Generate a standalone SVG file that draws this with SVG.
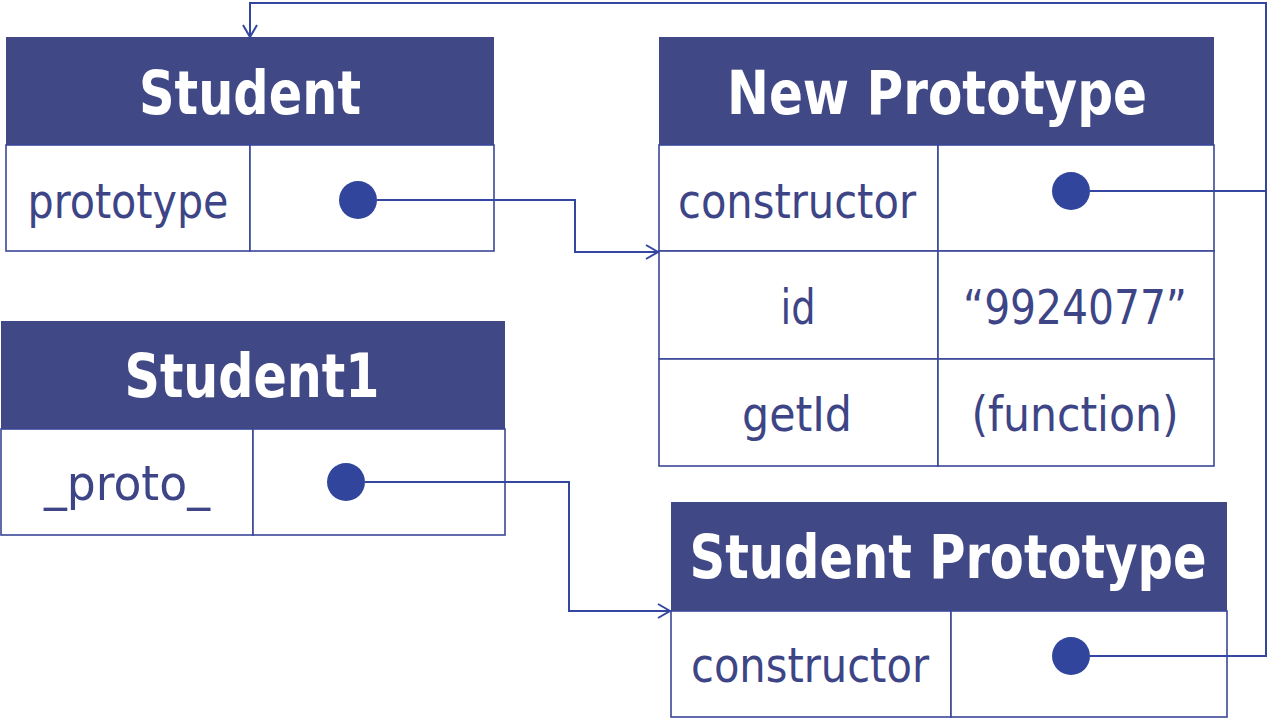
<svg xmlns="http://www.w3.org/2000/svg" width="1270" height="722" viewBox="0 0 1270 722">
<style>
.hdr{fill:#414886}
.cell{fill:#fff;stroke:#3b4796;stroke-width:1.6}
.ht{font-family:"DejaVu Sans Condensed","DejaVu Sans",sans-serif;font-weight:bold;font-size:60px;fill:#fff;text-anchor:middle}
.rt{font-family:"DejaVu Sans Condensed","DejaVu Sans",sans-serif;font-size:48px;fill:#3d4586;text-anchor:middle}
.dot{fill:#30459b}
.con{fill:none;stroke:#3447a0;stroke-width:2}
</style>
<defs>
<marker id="arr" markerWidth="16" markerHeight="16" refX="13" refY="8" orient="auto" markerUnits="userSpaceOnUse">
<path d="M1,1 L13,8 L1,15" fill="none" stroke="#3447a0" stroke-width="2"/>
</marker>
</defs>
<g id="student">
<rect class="hdr" x="6" y="37" width="488" height="108"/>
<rect class="cell" x="6" y="145" width="244" height="106"/>
<rect class="cell" x="250" y="145" width="244" height="106"/>
<text class="ht" x="250" y="114" textLength="222" lengthAdjust="spacingAndGlyphs">Student</text>
<text class="rt" x="128" y="218" textLength="201" lengthAdjust="spacingAndGlyphs">prototype</text>
<circle class="dot" cx="358" cy="200" r="19"/>
</g>
<g id="new-prototype">
<rect class="hdr" x="659" y="37" width="555" height="108"/>
<rect class="cell" x="659" y="145" width="279" height="106"/>
<rect class="cell" x="938" y="145" width="276" height="106"/>
<rect class="cell" x="659" y="251" width="279" height="108"/>
<rect class="cell" x="938" y="251" width="276" height="108"/>
<rect class="cell" x="659" y="359" width="279" height="107"/>
<rect class="cell" x="938" y="359" width="276" height="107"/>
<text class="ht" x="937" y="114" textLength="420" lengthAdjust="spacingAndGlyphs">New Prototype</text>
<text class="rt" x="797" y="218" textLength="238" lengthAdjust="spacingAndGlyphs">constructor</text>
<text class="rt" x="798" y="324" textLength="35" lengthAdjust="spacingAndGlyphs">id</text>
<text class="rt" x="1075" y="324" textLength="224" lengthAdjust="spacingAndGlyphs">“9924077”</text>
<text class="rt" x="797" y="431" textLength="110" lengthAdjust="spacingAndGlyphs">getId</text>
<text class="rt" x="1075" y="431" textLength="207" lengthAdjust="spacingAndGlyphs">(function)</text>
<circle class="dot" cx="1071" cy="191" r="19"/>
</g>
<g id="student1">
<rect class="hdr" x="1" y="321" width="504" height="108"/>
<rect class="cell" x="1" y="429" width="252" height="106"/>
<rect class="cell" x="253" y="429" width="252" height="106"/>
<text class="ht" x="252" y="397" textLength="255" lengthAdjust="spacingAndGlyphs">Student1</text>
<text class="rt" x="127" y="500" textLength="166" lengthAdjust="spacingAndGlyphs">_proto_</text>
<circle class="dot" cx="346" cy="482" r="19"/>
</g>
<g id="student-prototype">
<rect class="hdr" x="671" y="502" width="556" height="109"/>
<rect class="cell" x="671" y="611" width="280" height="106"/>
<rect class="cell" x="951" y="611" width="276" height="106"/>
<text class="ht" x="948" y="578" textLength="517" lengthAdjust="spacingAndGlyphs">Student Prototype</text>
<text class="rt" x="810" y="682" textLength="238" lengthAdjust="spacingAndGlyphs">constructor</text>
<circle class="dot" cx="1071" cy="656" r="19"/>
</g>
<g id="connectors">
<path class="con" d="M377,200 H575 V252 H658" marker-end="url(#arr)"/>
<path class="con" d="M365,482 H569 V611 H670" marker-end="url(#arr)"/>
<path class="con" d="M1090,191 H1266 V3 H250 V37" marker-end="url(#arr)"/>
<path class="con" d="M1090,656 H1266 V191"/>
</g>
</svg>
